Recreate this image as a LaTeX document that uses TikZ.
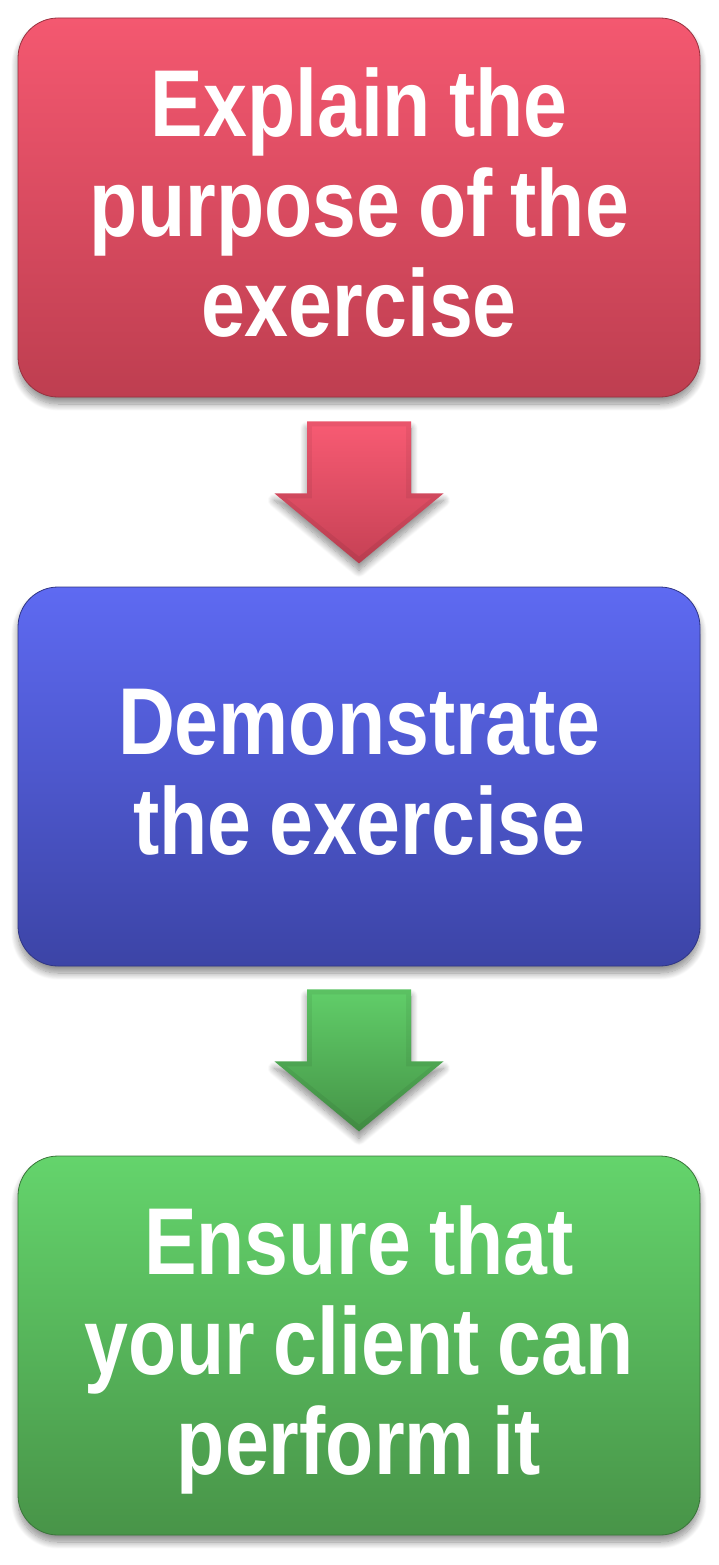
\documentclass[tikz,border=0pt]{standalone}
\usepackage{fontspec}
\setmainfont{Liberation Sans}[FakeStretch=0.83]
\usetikzlibrary{calc,shadows.blur}
\newcommand\mystepfont{\bfseries\fontsize{95}{100}\selectfont\fontdimen2\font=18pt\relax}
\definecolor{rtop}{RGB}{244,88,112}
\definecolor{rbot}{RGB}{190,62,80}
\definecolor{btop}{RGB}{94,106,242}
\definecolor{bbot}{RGB}{60,68,166}
\definecolor{gtop}{RGB}{100,212,108}
\definecolor{gbot}{RGB}{72,148,72}
\definecolor{artop}{RGB}{246,90,114}
\definecolor{arbot}{RGB}{200,66,86}
\definecolor{agtop}{RGB}{96,204,104}
\definecolor{agbot}{RGB}{70,150,72}
\tikzset{
  softshadow/.style={blur shadow={shadow xshift=0pt, shadow yshift=-7pt, shadow blur steps=12, shadow blur radius=7pt, shadow opacity=45}},
  stepbox/.style={rounded corners=40pt, minimum width=682pt, minimum height=379pt,
    inner sep=0pt, softshadow, line width=0.8pt},
  steptext/.style={inner sep=0pt, align=center, text=white, font=\mystepfont},
  pics/blockarrow/.style 2 args={code={
    \path[softshadow, top color=#1!95!black, bottom color=#2!92!black]
      (-52,0) -- (52,0) -- (52,72) -- (84.5,72) -- (0,142) -- (-84.5,72) -- (-52,72) -- cycle;
    \path[top color=#1, bottom color=#2]
      (-47,5) -- (47,5) -- (47,77) -- (72,77) -- (0,135) -- (-72,77) -- (-47,77) -- cycle;
  }}
}
\begin{document}
\begin{tikzpicture}[x=1pt,y=-1pt]
\useasboundingbox (0,0) rectangle (719,1565);
\node[stepbox, top color=rtop, bottom color=rbot, draw=rbot!80!black] (b1) at (359,207.5) {};
\node[stepbox, top color=btop, bottom color=bbot, draw=bbot!80!black] (b2) at (359,776.5) {};
\node[stepbox, top color=gtop, bottom color=gbot, draw=gbot!80!black] (b3) at (359,1345.5) {};
\node[steptext] (t1) at ($(b1.center)+(0,-4.5)$) {Explain the\\purpose of the\\exercise};
\node[steptext] (t2) at ($(b2.center)+(0,-4.5)$) {Demonstrate\\the exercise};
\node[steptext] (t3) at ($(b3.center)+(0,4)$) {Ensure that\\your client can\\perform it};
\coordinate (a1) at ($(b1.south)+(0,24)$);
\coordinate (a2) at ($(b2.south)+(0,23)$);
\pic at (a1) {blockarrow={artop}{arbot}};
\pic at (a2) {blockarrow={agtop}{agbot}};
\end{tikzpicture}
\end{document}
